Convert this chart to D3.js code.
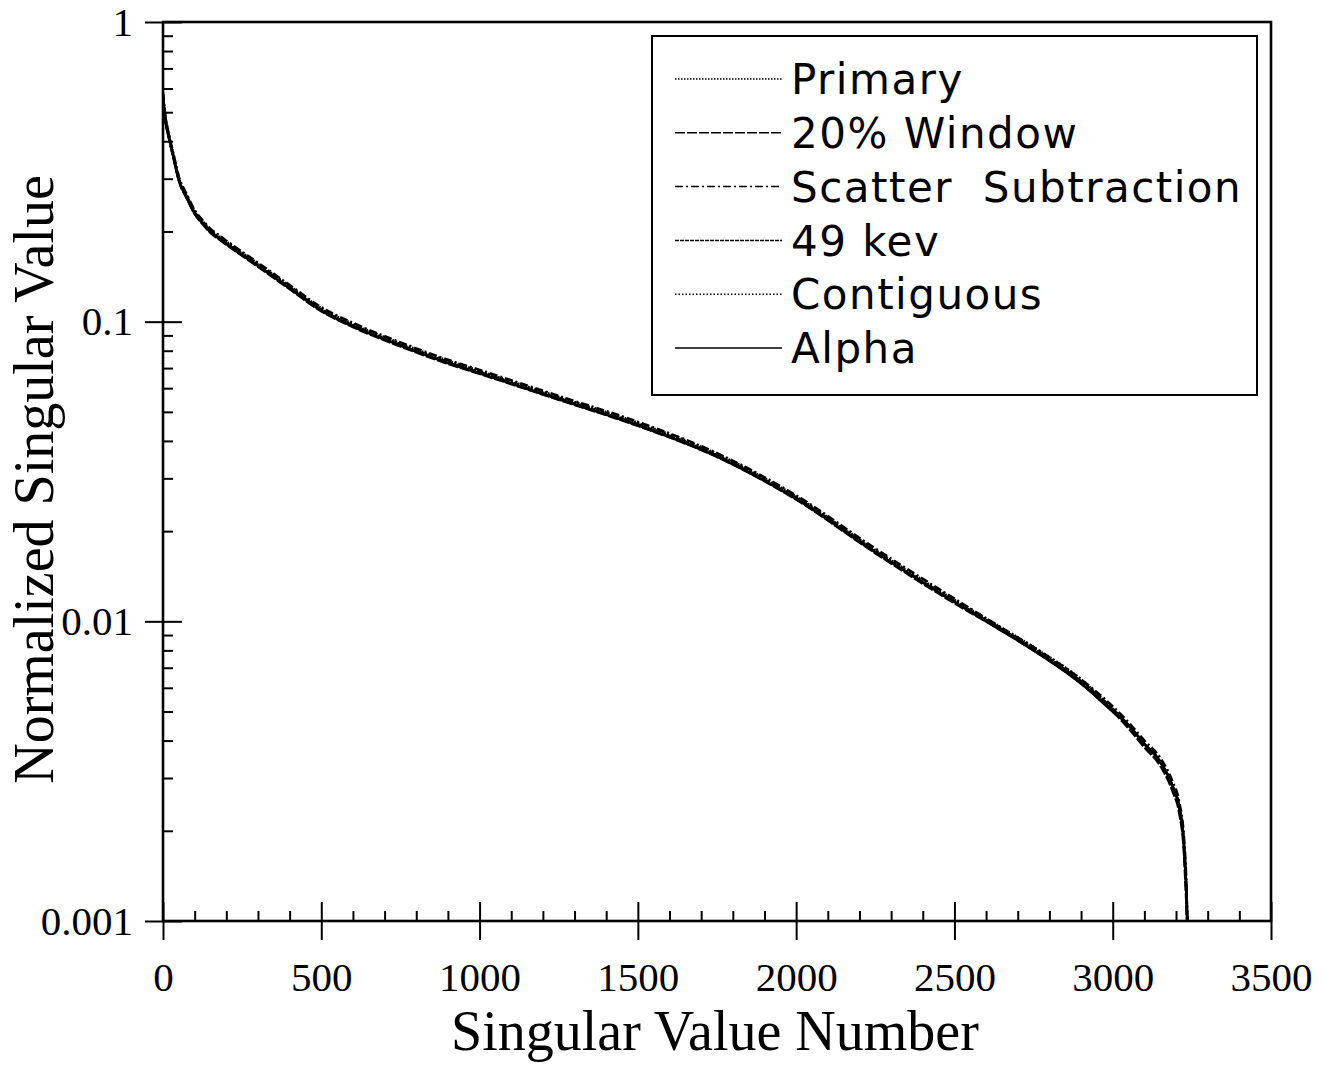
<html>
<style>
  body { margin: 0; background: #fff; }
  svg { display: block; background: #fff; }
  .frame { fill: none; stroke: #000; stroke-width: 2.6px; }
  .axis path { display: none; }
  .axis line { stroke: #000; stroke-width: 2px; }
  .ticklab text { font-family: "Liberation Serif", "Times New Roman", serif; font-size: 41px; fill: #000; }
  .title { font-family: "Liberation Serif", "Times New Roman", serif; font-size: 56px; fill: #000; }
  .line { fill: none; stroke: #000; stroke-width: 2.6px; }
  .legend text { font-family: "DejaVu Sans", sans-serif; font-size: 42px; letter-spacing: 1.5px; fill: #000; white-space: pre; }
  .legend rect { fill: #fff; stroke: #000; stroke-width: 2px; }
  .legend line { stroke: #000; stroke-width: 1.5px; }
</style>
<script src="https://d3js.org/d3.v7.min.js"></script>
<body>
<div id="container"></div>
<script>

// singular value index (shared by all runs)
const svNumber = [0, 5, 10, 20, 35, 50, 75, 100, 125, 150, 175, 200, 250, 300, 400, 500, 600, 750, 900, 1000,
  1250, 1500, 1750, 2000, 2250, 2500, 2650, 2750, 2900, 3000, 3050, 3100, 3150, 3190, 3210, 3225, 3232, 3236];

const primary    = [0.57,0.50,0.46,0.41,0.35,0.30,0.262,0.232,0.215,0.201,0.192,0.1835,0.1685,0.155,0.1305,0.110,0.0975,0.0840,0.0735,0.0680,0.0557,0.0456,0.0359,0.0259,0.0172,0.0117,0.0094,0.0081,0.0063,0.0051,0.0045,0.0039,0.0034,0.0028,0.0024,0.0018,0.0013,0.00098];
const window20   = [0.56,0.49,0.453,0.404,0.345,0.296,0.258,0.229,0.212,0.198,0.189,0.1807,0.166,0.1527,0.1285,0.1084,0.0960,0.0827,0.0724,0.0670,0.0549,0.0449,0.0354,0.0255,0.0169,0.0115,0.0093,0.0080,0.0062,0.0050,0.0044,0.0038,0.0033,0.0027,0.0023,0.0017,0.0012,0.00095];
const scatterSub = [0.58,0.51,0.467,0.416,0.355,0.305,0.266,0.2355,0.218,0.204,0.1949,0.1863,0.171,0.1573,0.1325,0.1117,0.0990,0.0853,0.0746,0.0690,0.0565,0.0463,0.0364,0.0263,0.0175,0.0119,0.0095,0.0082,0.0064,0.0052,0.0046,0.0040,0.0035,0.0029,0.0025,0.0019,0.0014,0.00099];
const kev49      = [0.567,0.497,0.458,0.408,0.348,0.2985,0.2607,0.2308,0.2139,0.200,0.191,0.1826,0.1677,0.1542,0.1298,0.1095,0.0970,0.0836,0.0731,0.0677,0.0554,0.0454,0.0357,0.0258,0.0171,0.0116,0.0094,0.0081,0.0063,0.0051,0.0045,0.0039,0.0034,0.0028,0.0024,0.0018,0.0013,0.00097];
const contiguous = [0.575,0.504,0.464,0.413,0.353,0.3024,0.2641,0.2339,0.2167,0.2026,0.1935,0.185,0.1698,0.1562,0.1315,0.1109,0.0983,0.0847,0.0741,0.0685,0.0561,0.0460,0.0362,0.0261,0.0173,0.0118,0.0095,0.0082,0.0064,0.0051,0.0045,0.0039,0.0034,0.0028,0.0024,0.0018,0.0013,0.00098];
const alpha      = [0.564,0.495,0.455,0.406,0.3465,0.297,0.2594,0.2297,0.2129,0.199,0.190,0.1817,0.1668,0.1535,0.1292,0.1089,0.0965,0.0832,0.0728,0.0673,0.0551,0.0451,0.0355,0.0256,0.0170,0.0116,0.0093,0.0080,0.0062,0.0050,0.0045,0.0039,0.0034,0.0028,0.0024,0.0018,0.0013,0.00096];

const seriesNames = ["Primary", "20% Window", "Scatter  Subtraction", "49 kev", "Contiguous", "Alpha"];
const seriesValues = [primary, window20, scatterSub, kev49, contiguous, alpha];
const seriesDash = ["1.5,1.5", "10,2", "8,3,2,3", "4,1", "1.5,2", null];

const xTicks = [0, 500, 1000, 1500, 2000, 2500, 3000, 3500];
const yTicks = [1, 0.1, 0.01, 0.001];
const yTickLabels = ["1", "0.1", "0.01", "0.001"];

const W = 1329, H = 1070;
const margin = {top: 22, right: 58, bottom: 149, left: 163};
const width = W - margin.left - margin.right,
      height = H - margin.top - margin.bottom;

const svg = d3.select("#container").append("svg").attr("width", W).attr("height", H);
const g = svg.append("g").attr("transform", "translate(" + margin.left + "," + margin.top + ")");

const x = d3.scaleLinear().domain([0, 3500]).range([0, width]);
const y = d3.scaleLog().domain([0.001, 1]).range([height, 0]);

svg.append("defs").append("clipPath").attr("id", "clip")
  .append("rect").attr("width", width).attr("height", height);

// minor ticks
const xMinor = d3.range(0, 3501, 100).filter(v => v % 500 != 0);
const yMinor = [];
[0.001, 0.01, 0.1].forEach(d => { for (let k = 2; k < 10; k++) yMinor.push(d * k); });

g.append("g").attr("class", "axis").attr("transform", "translate(0," + height + ")")
  .call(d3.axisTop(x).tickValues(xMinor).tickSize(10).tickFormat(""));
g.append("g").attr("class", "axis")
  .call(d3.axisRight(y).tickValues(yMinor).tickSize(10).tickFormat(""));

// major ticks cross the axis
g.append("g").attr("class", "axis").attr("transform", "translate(0," + height + ")")
  .call(d3.axisTop(x).tickValues(xTicks).tickSize(19).tickFormat(""));
g.append("g").attr("class", "axis ticklab").attr("transform", "translate(0," + height + ")")
  .call(d3.axisBottom(x).tickValues(xTicks).tickSize(19).tickPadding(22).tickFormat(d3.format("d")));
g.append("g").attr("class", "axis")
  .call(d3.axisRight(y).tickValues(yTicks).tickSize(19).tickFormat(""));
g.append("g").attr("class", "axis ticklab")
  .call(d3.axisLeft(y).tickValues(yTicks).tickSize(18).tickPadding(12).tickFormat((d, i) => yTickLabels[i]));

g.append("rect").attr("class", "frame").attr("width", width).attr("height", height);

const line = d3.line()
  .curve(d3.curveMonotoneX)
  .x((d, i) => x(svNumber[i]))
  .y(d => y(d));

g.append("g").attr("clip-path", "url(#clip)")
  .selectAll("path").data(seriesValues).join("path")
  .attr("class", "line")
  .attr("stroke-dasharray", (d, i) => seriesDash[i])
  .attr("d", d => line(d));

// legend
const leg = svg.append("g").attr("class", "legend").attr("transform", "translate(652,36)");
leg.append("rect").attr("width", 605).attr("height", 359);
const rows = leg.selectAll("g.row").data(seriesNames).join("g").attr("class", "row")
  .attr("transform", (d, i) => "translate(0," + (43 + i * 53.8) + ")");
rows.append("line").attr("x1", 23).attr("x2", 130)
  .attr("stroke-dasharray", (d, i) => seriesDash[i]);
rows.append("text").attr("x", 139).attr("dy", "0.36em").text(d => d);

// axis titles
svg.append("text").attr("class", "title").attr("text-anchor", "middle")
  .attr("x", margin.left + x(1750) - 2).attr("y", 1050).text("Singular Value Number");
svg.append("text").attr("class", "title").attr("text-anchor", "middle")
  .attr("transform", "translate(53," + (margin.top + height / 2 + 8) + ")rotate(-90)")
  .text("Normalized Singular Value");

</script>
</body>
</html>
